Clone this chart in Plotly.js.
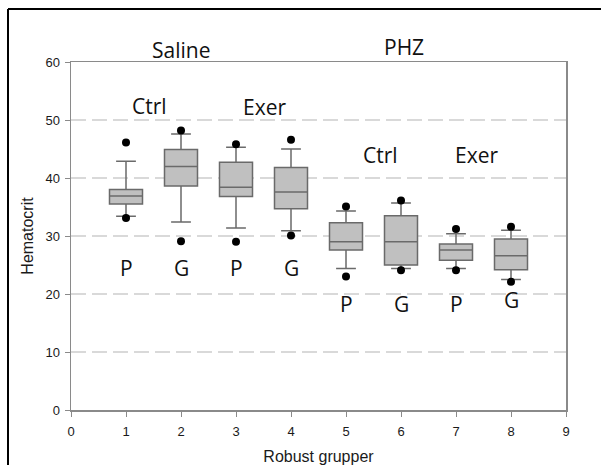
<!DOCTYPE html>
<html>
<head>
<meta charset="utf-8">
<script src="https://cdn.plot.ly/plotly-3.0.1.min.js"></script>
<style>
html,body{margin:0;padding:0;background:#fff;}
#chart{width:601px;height:465px;}
</style>
</head>
<body>
<div id="chart"></div>
<script>
// Group positions on the x axis
const positions = [1, 2, 3, 4, 5, 6, 7, 8];
// Box statistics (Hematocrit)
const q1Values     = [35.5, 38.6, 36.8, 34.7, 27.6, 25.0, 25.8, 24.2];
const medianValues = [36.9, 42.0, 38.4, 37.6, 29.0, 29.0, 27.6, 26.6];
const q3Values     = [38.0, 44.9, 42.7, 41.8, 32.3, 33.5, 28.6, 29.5];
const lowerWhisker = [33.4, 32.4, 31.4, 30.9, 24.4, 24.4, 24.4, 22.5];
const upperWhisker = [42.9, 47.6, 45.3, 45.0, 34.3, 35.7, 30.4, 31.0];
// Outlying points (5th / 95th percentile dots)
const lowOutliers  = [33.1, 29.1, 29.0, 30.1, 23.0, 24.1, 24.1, 22.1];
const highOutliers = [46.1, 48.2, 45.8, 46.6, 35.1, 36.1, 31.2, 31.6];
// Group labels under each box
const groupLabels  = ['P', 'G', 'P', 'G', 'P', 'G', 'P', 'G'];
const groupLabelY  = [24.4, 24.4, 24.4, 24.4, 18.3, 18.3, 18.3, 19.0];
// Header labels
const headerTexts = ['Saline', 'PHZ', 'Ctrl', 'Exer', 'Ctrl', 'Exer'];
const headerX     = [2.0, 6.06, 1.42, 3.51, 5.62, 7.37];
const headerY     = [62.1, 62.6, 52.4, 52.2, 43.9, 43.9];
// Axis ticks
const xTicks = [0, 1, 2, 3, 4, 5, 6, 7, 8, 9];
const yTicks = [0, 10, 20, 30, 40, 50, 60];
const yMax = 60;

const boxTrace = {
  type: 'box',
  x: positions,
  q1: q1Values,
  median: medianValues,
  q3: q3Values,
  lowerfence: lowerWhisker,
  upperfence: upperWhisker,
  boxpoints: false,
  width: 0.6,
  whiskerwidth: 0.6,
  fillcolor: '#c0c0c0',
  line: {color: '#6a6a6a', width: 1.5},
  showlegend: false,
  hoverinfo: 'skip'
};

const outX = positions.concat(positions);
const outY = lowOutliers.concat(highOutliers);
const outlierTrace = {
  type: 'scatter',
  mode: 'markers',
  x: outX,
  y: outY,
  marker: {color: '#000', size: 8},
  showlegend: false,
  hoverinfo: 'skip',
  cliponaxis: false
};

const annFont = {family: 'Open Sans, Noto Sans, sans-serif', size: 21, color: '#111'};
const annotations = [];
headerTexts.forEach((t, i) => annotations.push({
  x: headerX[i], y: headerY[i] / yMax, xref: 'x', yref: 'y domain', text: t,
  showarrow: false, font: annFont, xanchor: 'center', yanchor: 'middle'
}));
groupLabels.forEach((t, i) => annotations.push({
  x: positions[i], y: groupLabelY[i], xref: 'x', yref: 'y', text: t,
  showarrow: false, font: annFont, xanchor: 'center', yanchor: 'middle'
}));

const L = 71, R = 35, T = 62, B = 55, W = 601, H = 465;
const pw = W - L - R, ph = H - T - B;
const px = v => (v - L) / pw;
const py = v => (H - B - v) / ph;

const layout = {
  width: W, height: H,
  margin: {l: L, r: R, t: T, b: B, pad: 0},
  paper_bgcolor: '#fff',
  plot_bgcolor: '#fff',
  showlegend: false,
  font: {family: 'Liberation Sans, Arial, sans-serif', color: '#222'},
  xaxis: {
    range: [0, 9],
    tickvals: xTicks,
    ticktext: xTicks.map(String),
    showgrid: false,
    zeroline: false,
    showline: true, mirror: true,
    linecolor: '#8a8a8a', linewidth: 1.5,
    ticks: 'outside', ticklen: 5, tickcolor: '#8a8a8a', tickwidth: 1,
    ticklabelstandoff: 4,
    tickfont: {size: 13, color: '#1a1a1a'},
    title: {text: 'Robust grupper', font: {size: 16, color: '#1a1a1a'}, standoff: 14}
  },
  yaxis: {
    range: [0, yMax],
    tickvals: yTicks,
    ticktext: yTicks.map(String),
    showgrid: true,
    gridcolor: '#d9d9d9', gridwidth: 1.5, griddash: '15px,6px',
    zeroline: false,
    showline: true, mirror: true,
    linecolor: '#8a8a8a', linewidth: 1.5,
    ticks: 'outside', ticklen: 5, tickcolor: '#8a8a8a', tickwidth: 1,
    ticklabelstandoff: 2,
    tickfont: {size: 13, color: '#1a1a1a'},
    title: {text: 'Hematocrit', font: {size: 16, color: '#1a1a1a'}, standoff: 8}
  },
  annotations: annotations,
  shapes: [
    {type: 'line', xref: 'paper', yref: 'paper', x0: px(8), x1: px(8), y0: py(465), y1: py(9), line: {color: '#000', width: 2}},
    {type: 'line', xref: 'paper', yref: 'paper', x0: px(8), x1: px(601), y0: py(9), y1: py(9), line: {color: '#000', width: 2}}
  ]
};

Plotly.newPlot('chart', [boxTrace, outlierTrace], layout, {staticPlot: true, displayModeBar: false});
</script>
</body>
</html>
